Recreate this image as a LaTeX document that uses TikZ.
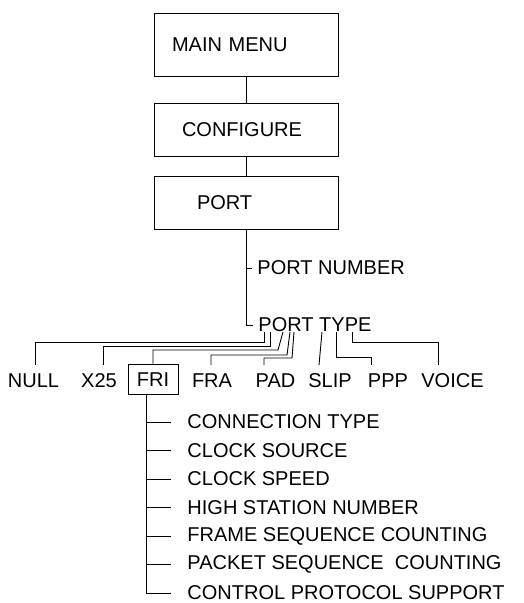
\documentclass[tikz,border=0pt]{standalone}
\usepackage{fontspec}
\setmainfont{Liberation Sans}
\usepackage{tikz}
\usetikzlibrary{positioning}

\begin{document}
\begin{tikzpicture}[x=1pt,y=-1pt,line width=0.9pt,
	every node/.style={font=\fontsize{20}{24}\selectfont},
	menubox/.style={draw,minimum height=53pt,text width=184pt,inner xsep=0pt,align=left},
	typetext/.style={text height=14pt,text depth=0pt,inner ysep=8pt,inner xsep=2pt},
	itemtext/.style={anchor=west,inner sep=2pt}]
	\useasboundingbox (0,0) rectangle (523,603);
	
	% 三个菜单框
	\node[menubox,minimum height=63pt] (main) at (246,44.5) {\hspace*{18pt}MAIN MENU};
	\node[menubox] (configure) at (246,129.5) {\hspace*{28pt}CONFIGURE};
	\node[menubox] (port) at (246,202.5) {\hspace*{43pt}PORT};
	\draw (main) -- (configure);
	\draw (configure) -- (port);
	
	% PORT 下面的两项
	\node[itemtext] (pnum) at (255,268) {PORT NUMBER};
	\node[itemtext] (ptype) at (256,325) {PORT TYPE};
	\draw (port.south |- pnum.west) -- ++(6,0);
	\draw[shorten >=3pt] (port) |- (ptype.west);
	
	% 端口类型一行，FRI 加框
	\foreach \n/\t/\x in {null/NULL/33.5, x25/X25/99, fra/FRA/212, pad/PAD/275.5, slip/SLIP/330, ppp/PPP/388, voice/VOICE/452.5}
		\node[typetext] (\n) at (\x,380.5) {\t};
	\node[typetext,draw,minimum width=50pt,minimum height=28pt] (fri) at (153,379) {FRI};
	
	% 从 PORT TYPE 分出的折线
	\draw (264,332) -- (264,342) -| ([xshift=1.5pt]null.north);
	\draw (270,332) -- (270,346) -| ([xshift=4pt]x25.north);
	\draw (283,332) -- (278,350) -| (fri.north);
	\draw (290,332) -- (287,355) -| ([xshift=-1pt]fra.north);
	\draw (294,332) -- (292,358) -| ([xshift=-11.5pt]pad.north);
	\draw (322,332) -- ([xshift=-11pt]slip.north);
	\draw (336,332) -- (336,357) -| ([xshift=-17pt]ppp.north);
	\draw (352,332) -- (352,342) -| ([xshift=-14.5pt]voice.north);
	
	% FRI 的子菜单
	\coordinate (fspine) at ([xshift=-7pt]fri.south);
	\foreach \n/\t [count=\i] in {conntype/CONNECTION TYPE, clksrc/CLOCK SOURCE, clkspd/CLOCK SPEED, hsn/HIGH STATION NUMBER, fseq/FRAME SEQUENCE COUNTING, pseq/PACKET SEQUENCE\ \ COUNTING, cps/CONTROL PROTOCOL SUPPORT}
		\node[itemtext] (\n) at (185,{422+28.5*(\i-1)}) {\t};
	\foreach \n in {conntype,clksrc,clkspd,hsn,fseq,pseq}
		\draw (fspine |- \n.west) -- ([xshift=-14pt]\n.west);
	\draw (fspine) |- ([xshift=-14pt]cps.west);
\end{tikzpicture}
\end{document}
